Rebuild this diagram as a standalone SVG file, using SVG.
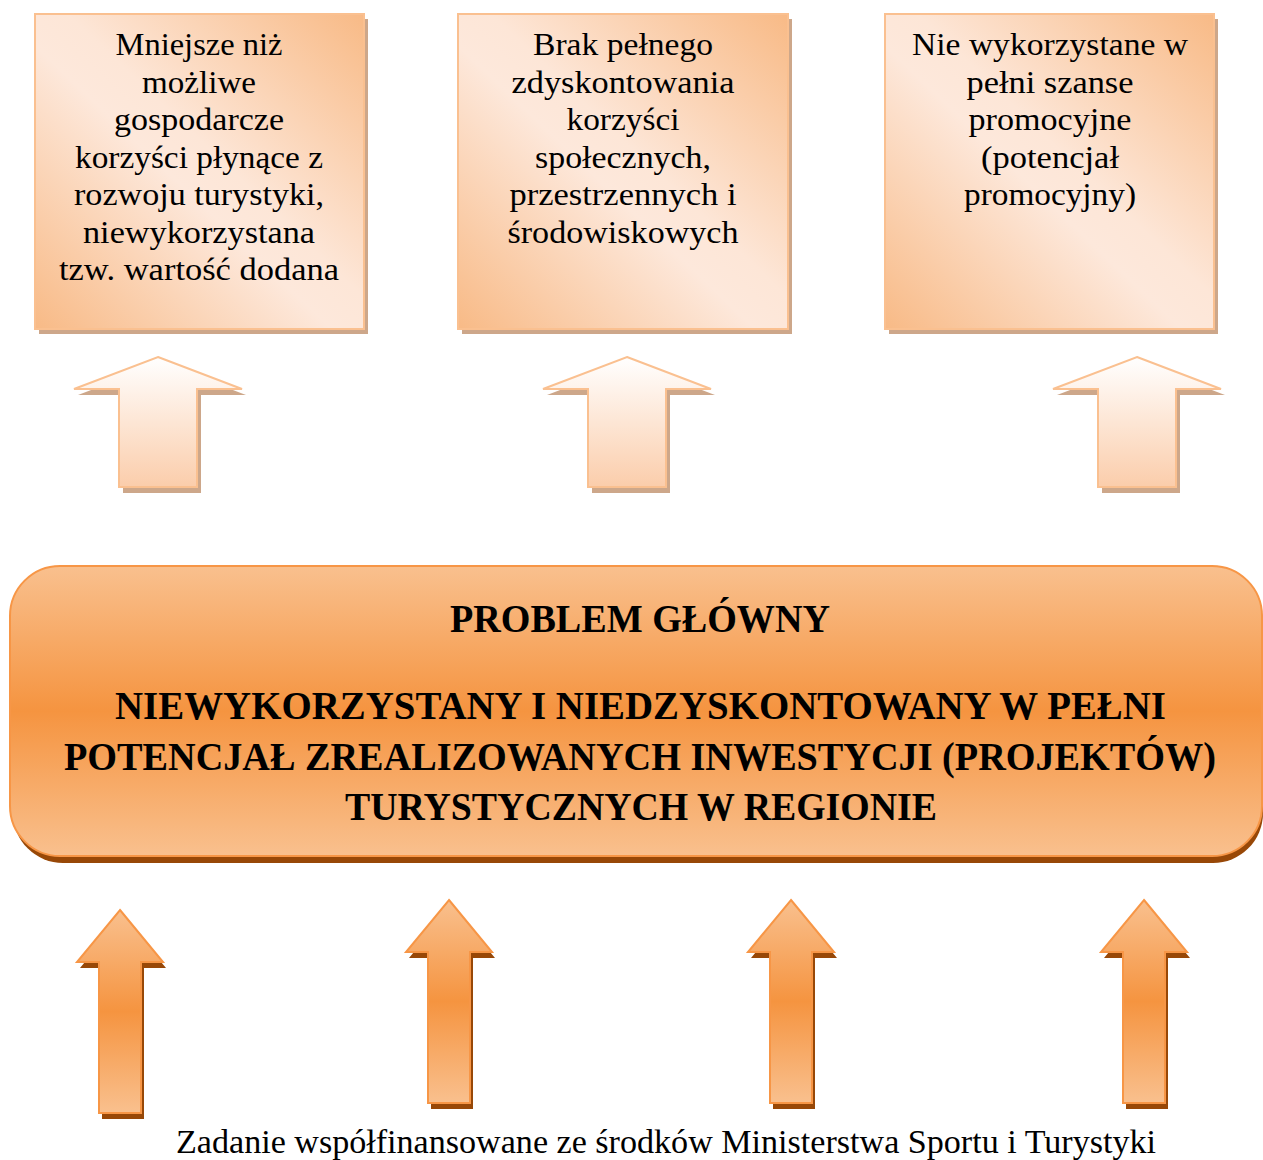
<svg xmlns="http://www.w3.org/2000/svg" xmlns:xlink="http://www.w3.org/1999/xlink" width="1263" height="1160" viewBox="0 0 1263 1160">
  <style>
    .boxtxt { font-family: "Liberation Serif", "DejaVu Serif", serif; font-size: 32px; fill: #000; text-anchor: middle; }
    .maintxt { font-family: "Liberation Serif", "DejaVu Serif", serif; font-size: 41px; font-weight: bold; fill: #000; text-anchor: middle; }
    .foot { font-family: "Liberation Serif", "DejaVu Serif", serif; font-size: 33px; fill: #000; text-anchor: middle; }
    .box { fill: url(#boxGrad); stroke: #fac090; stroke-width: 2; }
    .boxShadow { fill: #cda78a; }
    .upArrow { fill: url(#upGrad); stroke: #fac090; stroke-width: 2; }
    .upShadow { fill: #cda78a; }
    .main { fill: url(#orangeGrad); stroke: #f79646; stroke-width: 2; }
    .mainShadow { fill: #984807; }
    .botArrow { fill: url(#orangeGrad); stroke: #f79646; stroke-width: 2; }
    .botShadow { fill: #984807; }
  </style>
  <defs>
    <linearGradient id="boxGrad" x1="1" y1="0" x2="0" y2="1">
      <stop offset="0" stop-color="#f8ba86"/>
      <stop offset="0.45" stop-color="#fde6d7"/>
      <stop offset="0.55" stop-color="#fde8db"/>
      <stop offset="1" stop-color="#f8ba86"/>
    </linearGradient>
    <linearGradient id="upGrad" x1="0" y1="0" x2="0" y2="1">
      <stop offset="0" stop-color="#ffffff"/>
      <stop offset="1" stop-color="#fbcdab"/>
    </linearGradient>
    <linearGradient id="orangeGrad" x1="0" y1="0" x2="0" y2="1">
      <stop offset="0" stop-color="#f9c08e"/>
      <stop offset="0.5" stop-color="#f59440"/>
      <stop offset="1" stop-color="#f9c08e"/>
    </linearGradient>
    <path id="upShape" d="M0,0 L84,32 L39,32 L39,130 L-39,130 L-39,32 L-84,32 Z"/>
    <path id="botShape" d="M0,0 L43,52 L21,52 L21,203 L-21,203 L-21,52 L-43,52 Z"/>
  </defs>

  <g id="box1">
    <rect class="boxShadow" x="39" y="19" width="329" height="315"/>
    <rect class="box" x="35" y="14" width="329" height="315"/>
    <text class="boxtxt" x="199" y="55" textLength="167" lengthAdjust="spacingAndGlyphs">Mniejsze niż</text>
    <text class="boxtxt" x="199" y="92.5" textLength="114" lengthAdjust="spacingAndGlyphs">możliwe</text>
    <text class="boxtxt" x="199" y="130" textLength="170" lengthAdjust="spacingAndGlyphs">gospodarcze</text>
    <text class="boxtxt" x="199" y="167.5" textLength="248" lengthAdjust="spacingAndGlyphs">korzyści płynące z</text>
    <text class="boxtxt" x="199" y="205" textLength="250" lengthAdjust="spacingAndGlyphs">rozwoju turystyki,</text>
    <text class="boxtxt" x="199" y="242.5" textLength="232" lengthAdjust="spacingAndGlyphs">niewykorzystana</text>
    <text class="boxtxt" x="199" y="280" textLength="280" lengthAdjust="spacingAndGlyphs">tzw. wartość dodana</text>
  </g>

  <g id="box2">
    <rect class="boxShadow" x="462" y="19" width="330" height="315"/>
    <rect class="box" x="458" y="14" width="330" height="315"/>
    <text class="boxtxt" x="623" y="55" textLength="180" lengthAdjust="spacingAndGlyphs">Brak pełnego</text>
    <text class="boxtxt" x="623" y="92.5" textLength="223" lengthAdjust="spacingAndGlyphs">zdyskontowania</text>
    <text class="boxtxt" x="623" y="130" textLength="113" lengthAdjust="spacingAndGlyphs">korzyści</text>
    <text class="boxtxt" x="623" y="167.5" textLength="176" lengthAdjust="spacingAndGlyphs">społecznych,</text>
    <text class="boxtxt" x="623" y="205" textLength="227" lengthAdjust="spacingAndGlyphs">przestrzennych i</text>
    <text class="boxtxt" x="623" y="242.5" textLength="231" lengthAdjust="spacingAndGlyphs">środowiskowych</text>
  </g>

  <g id="box3">
    <rect class="boxShadow" x="889" y="19" width="329" height="315"/>
    <rect class="box" x="885" y="14" width="329" height="315"/>
    <text class="boxtxt" x="1050" y="55" textLength="276" lengthAdjust="spacingAndGlyphs">Nie wykorzystane w</text>
    <text class="boxtxt" x="1050" y="92.5" textLength="167" lengthAdjust="spacingAndGlyphs">pełni szanse</text>
    <text class="boxtxt" x="1050" y="130" textLength="163" lengthAdjust="spacingAndGlyphs">promocyjne</text>
    <text class="boxtxt" x="1050" y="167.5" textLength="138" lengthAdjust="spacingAndGlyphs">(potencjał</text>
    <text class="boxtxt" x="1050" y="205" textLength="172" lengthAdjust="spacingAndGlyphs">promocyjny)</text>
  </g>

  <g id="main">
    <rect class="mainShadow" x="13" y="573" width="1250" height="290" rx="50" ry="50"/>
    <rect class="main" x="10" y="566" width="1252" height="290" rx="50" ry="50"/>
    <text class="maintxt" x="640" y="632" textLength="380" lengthAdjust="spacingAndGlyphs">PROBLEM GŁÓWNY</text>
    <text class="maintxt" x="640.5" y="719" textLength="1051" lengthAdjust="spacingAndGlyphs">NIEWYKORZYSTANY I NIEDZYSKONTOWANY W PEŁNI</text>
    <text class="maintxt" x="640" y="770" textLength="1152" lengthAdjust="spacingAndGlyphs">POTENCJAŁ ZREALIZOWANYCH INWESTYCJI (PROJEKTÓW)</text>
    <text class="maintxt" x="641" y="820" textLength="592" lengthAdjust="spacingAndGlyphs">TURYSTYCZNYCH W REGIONIE</text>
  </g>

  <g id="connectors">
    <use href="#upShape" class="upShadow" x="162" y="363"/>
    <use href="#upShape" class="upArrow" x="158" y="357"/>
    <use href="#upShape" class="upShadow" x="631" y="363"/>
    <use href="#upShape" class="upArrow" x="627" y="357"/>
    <use href="#upShape" class="upShadow" x="1141" y="363"/>
    <use href="#upShape" class="upArrow" x="1137" y="357"/>

    <use href="#botShape" class="botShadow" x="123" y="916"/>
    <use href="#botShape" class="botArrow" x="120" y="910"/>
    <use href="#botShape" class="botShadow" x="452" y="906"/>
    <use href="#botShape" class="botArrow" x="449" y="900"/>
    <use href="#botShape" class="botShadow" x="794" y="906"/>
    <use href="#botShape" class="botArrow" x="791" y="900"/>
    <use href="#botShape" class="botShadow" x="1147" y="906"/>
    <use href="#botShape" class="botArrow" x="1144" y="900"/>
  </g>

  <g id="footer">
    <text class="foot" x="666" y="1153" textLength="980" lengthAdjust="spacingAndGlyphs">Zadanie współfinansowane ze środków Ministerstwa Sportu i Turystyki</text>
  </g>
</svg>
